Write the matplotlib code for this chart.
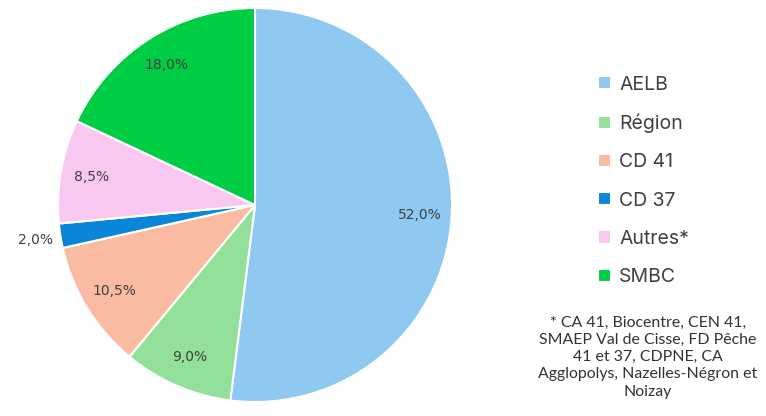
import matplotlib
matplotlib.use("Agg")
import matplotlib.pyplot as plt

categories = ["AELB", "Région", "CD 41", "CD 37", "Autres*", "SMBC"]
values = [52.0, 9.0, 10.5, 2.0, 8.5, 18.0]
colors = ["#8fc9f1", "#93e09a", "#f9bba2", "#0a86d8", "#f8c8f0", "#00cc44"]
footnote = ("* CA 41, Biocentre, CEN 41,\nSMAEP Val de Cisse, FD Pêche\n41 et 37, CDPNE, CA\n"
            "Agglopolys, Nazelles-Négron et\nNoizay")

W, H = 766, 416
fig = plt.figure(figsize=(W / 100, H / 100), dpi=100)
cx, cy, r = 255, 205, 197
ax = fig.add_axes([(cx - r) / W, (H - cy - r) / H, 2 * r / W, 2 * r / H])

def fmt(p):
    return f"{p:.1f}%".replace(".", ",")

wedges, texts, autotexts = ax.pie(
    values, colors=colors, startangle=90, counterclock=False,
    autopct=fmt, pctdistance=0.84, radius=1.0,
    wedgeprops=dict(edgecolor="white", linewidth=1.5),
    textprops=dict(color="#404040", fontsize=10, family="DejaVu Sans"))
for v, t in zip(values, autotexts):
    if v < 3:
        x, y = t.get_position()
        t.set_position((x * 1.13 / 0.84, y * 1.13 / 0.84))
ax.set_xlim(-1, 1)
ax.set_ylim(-1, 1)
ax.set_aspect("equal")
ax.axis("off")

leg = fig.legend(wedges, categories, loc="upper left",
                 bbox_to_anchor=(580 / W, 1 - 58 / H), frameon=False,
                 labelspacing=1.04, handlelength=0.67,
                 handleheight=0.67, handletextpad=0.45,
                 prop=dict(family="Inter", size=14))
for t in leg.get_texts():
    t.set_color("#404040")

fig.text(648 / W, 1 - 357 / H, footnote, ha="center", va="center",
         fontsize=11.4, family="Lato", color="#333333", linespacing=1.3)

fig.savefig("out.png", dpi=100, facecolor="white")
